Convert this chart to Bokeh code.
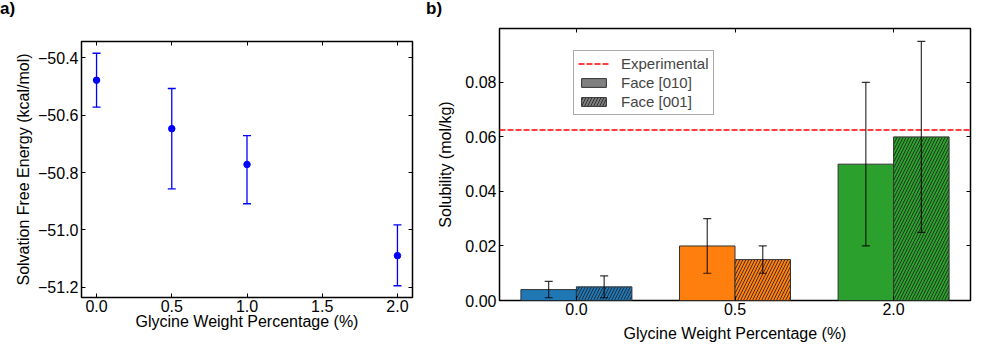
import numpy as np
from bokeh.plotting import figure
from bokeh.models import (ColumnDataSource, Whisker, TeeHead, LinearAxis, FixedTicker, Range1d,
                          Span, Legend, LegendItem, Div, CustomJSTickFormatter,
                          CustomLabelingPolicy)
from bokeh.embed import file_html
from bokeh.resources import INLINE

# ---------------- Panel a data ----------------
glycine_pct = [0.0, 0.5, 1.0, 2.0]
solv_energy = [-50.478, -50.647, -50.772, -51.090]
solv_upper = [-50.384, -50.507, -50.671, -50.983]
solv_lower = [-50.572, -50.857, -50.909, -51.195]
a_xticks = [0.0, 0.5, 1.0, 1.5, 2.0]
a_yticks = [-51.2, -51.0, -50.8, -50.6, -50.4]

# ---------------- Panel b data ----------------
categories = ["0.0", "0.5", "2.0"]
face010 = [0.004, 0.020, 0.050]
face010_err = [0.003, 0.010, 0.030]
face001 = [0.005, 0.015, 0.060]
face001_err = [0.004, 0.005, 0.035]
experimental = 0.0625
bar_colors = ["#1f77b4", "#ff7f0e", "#2ca02c"]
b_yticks = [0.0, 0.02, 0.04, 0.06, 0.08]

FONT = "Liberation Sans"
DASH = "6 2"


def style_axis(ax, label_standoff, title_standoff, size="16px"):
    ax.axis_label_text_font = FONT
    ax.axis_label_text_font_size = size
    ax.axis_label_text_font_style = "normal"
    ax.axis_label_text_color = "black"
    ax.major_label_text_font = FONT
    ax.major_label_text_font_size = size
    ax.major_label_text_color = "black"
    ax.major_tick_in = 4
    ax.major_tick_out = 0
    ax.major_tick_line_color = "black"
    ax.major_tick_line_width = 1
    ax.minor_tick_line_color = None
    ax.axis_line_color = None
    ax.major_label_standoff = label_standoff
    ax.axis_label_standoff = title_standoff


def mirror_axis(ticks):
    ax = LinearAxis(ticker=FixedTicker(ticks=ticks))
    ax.major_label_policy = CustomLabelingPolicy(code="return []")
    ax.major_label_text_font_size = "2px"
    ax.major_label_standoff = 0
    ax.axis_label_standoff = 0
    ax.major_tick_in = 4
    ax.major_tick_out = 0
    ax.major_tick_line_color = "black"
    ax.minor_tick_line_color = None
    ax.axis_line_color = None
    return ax


def whisker(src, color, alpha, width, head):
    return Whisker(source=src, base="x", upper="upper", lower="lower", dimension="height",
                   level="overlay", line_color=color, line_alpha=alpha, line_width=width,
                   upper_head=TeeHead(size=head, line_color=color, line_alpha=alpha, line_width=width),
                   lower_head=TeeHead(size=head, line_color=color, line_alpha=alpha, line_width=width))


# ================= Panel a =================
A_W, A_H = 420, 363
A_L, A_R, A_T, A_B = 81, 4, 41, 66
pa = figure(width=A_W, height=A_H, x_range=Range1d(-0.1, 2.1), y_range=Range1d(-51.236, -50.343),
            output_backend="svg", toolbar_location=None,
            min_border_left=A_L, min_border_right=A_R, min_border_top=A_T, min_border_bottom=A_B)
pa.xgrid.visible = False
pa.ygrid.visible = False
pa.outline_line_color = "black"
pa.outline_line_width = 1.5
pa.background_fill_color = "white"
pa.border_fill_color = "white"

pa.xaxis.ticker = FixedTicker(ticks=a_xticks)
pa.yaxis.ticker = FixedTicker(ticks=a_yticks)
pa.yaxis.formatter = CustomJSTickFormatter(code="return tick.toFixed(1).replace('-', '\\u2212')")
pa.xaxis.formatter = CustomJSTickFormatter(code="return tick.toFixed(1)")
pa.xaxis.axis_label = "Glycine Weight Percentage (%)"
pa.yaxis.axis_label = "Solvation Free Energy (kcal/mol)"
for ax in pa.xaxis:
    style_axis(ax, 2, -2)
for ax in pa.yaxis:
    style_axis(ax, 3, 3)
pa.add_layout(mirror_axis(a_xticks), "above")
pa.add_layout(mirror_axis(a_yticks), "right")

src_a = ColumnDataSource(dict(x=glycine_pct, y=solv_energy, upper=solv_upper, lower=solv_lower))
pa.add_layout(whisker(src_a, "blue", 1.0, 1.3, 8))
pa.scatter("x", "y", source=src_a, size=6.5, color="blue")

# ================= Panel b =================
bar_w = 0.35
idx = np.arange(len(categories))
B_W, B_H = 576, 363
B_L, B_R, B_T, B_B = 79, 26, 28, 63
pb = figure(width=B_W, height=B_H, x_range=Range1d(-0.485, 2.485), y_range=Range1d(0, 0.09975),
            output_backend="svg", toolbar_location=None,
            min_border_left=B_L, min_border_right=B_R, min_border_top=B_T, min_border_bottom=B_B)
pb.xgrid.visible = False
pb.ygrid.visible = False
pb.outline_line_color = "black"
pb.outline_line_width = 1.5
pb.background_fill_color = "white"
pb.border_fill_color = "white"

tick_pos = [int(i) for i in idx]
pb.xaxis.ticker = FixedTicker(ticks=tick_pos)
pb.xaxis.major_label_overrides = {i: c for i, c in zip(tick_pos, categories)}
pb.yaxis.ticker = FixedTicker(ticks=b_yticks)
pb.yaxis.formatter = CustomJSTickFormatter(code="return tick.toFixed(2)")
pb.xaxis.axis_label = "Glycine Weight Percentage (%)"
pb.yaxis.axis_label = "Solubility (mol/kg)"
for ax in pb.xaxis:
    style_axis(ax, 2, 7)
for ax in pb.yaxis:
    style_axis(ax, 3, 8)
pb.add_layout(mirror_axis(tick_pos), "above")
pb.add_layout(mirror_axis(b_yticks), "right")

f010 = np.array(face010)
e010 = np.array(face010_err)
f001 = np.array(face001)
e001 = np.array(face001_err)
src010 = ColumnDataSource(dict(x=idx - bar_w / 2, top=f010, color=bar_colors,
                               upper=f010 + e010, lower=f010 - e010))
src001 = ColumnDataSource(dict(x=idx + bar_w / 2, top=f001, color=bar_colors,
                               upper=f001 + e001, lower=f001 - e001))

HATCH = dict(hatch_pattern="/", hatch_color="#1a1a1a", hatch_scale=6, hatch_weight=0.8)
pb.vbar(x="x", top="top", bottom=0, width=bar_w, source=src010, fill_color="color",
        line_color="#333333", line_width=1)
pb.vbar(x="x", top="top", bottom=0, width=bar_w, source=src001, fill_color="color",
        line_color="#333333", line_width=1, **HATCH)

pb.add_layout(Span(location=experimental, dimension="width", line_color="red",
                   line_dash=DASH, line_width=1.5, level="overlay"))

for src in (src010, src001):
    pb.add_layout(whisker(src, "black", 0.8, 1.2, 8))

# legend proxies (hidden renderers that only lend their style to the legend)
src_exp = ColumnDataSource(dict(x=list(idx), y=[experimental] * len(idx)))
r_exp = pb.line(x="x", y="y", source=src_exp, line_color="red", line_dash=DASH, line_width=1.5,
                visible=False)
r_f010 = pb.vbar(x=idx, top=face010, width=bar_w, fill_color="gray", line_color="#333333",
                 line_width=1, visible=False)
r_f001 = pb.vbar(x=idx, top=face001, width=bar_w, fill_color="gray", line_color="#333333",
                 line_width=1, visible=False, **HATCH)
legend = Legend(items=[LegendItem(label="Experimental", renderers=[r_exp]),
                       LegendItem(label="Face [010]", renderers=[r_f010]),
                       LegendItem(label="Face [001]", renderers=[r_f001])],
                location=(74, 185), label_text_font=FONT, label_text_font_size="15px",
                glyph_width=31, glyph_height=11, label_standoff=12, spacing=2, padding=4,
                margin=0, border_line_color="#555555", border_line_width=1,
                background_fill_color="white", background_fill_alpha=1,
                inactive_fill_alpha=0)
pb.add_layout(legend)

# panel letters
LETTER_STYLE = {"font-family": FONT, "font-size": "17px", "font-weight": "bold",
                "color": "black", "line-height": "17px", "margin": "0", "padding": "0"}
div_a = Div(text="a)", width=30, height=20, styles=LETTER_STYLE)
div_b = Div(text="b)", width=30, height=20, styles=LETTER_STYLE)

roots = [pa, pb, div_a, div_b]
positions = [(0, 0), (A_W, 0), (0, 0), (426, 0)]

TEMPLATE = """
{% block contents %}
{% from macros import embed %}
{% for doc in docs %}{% for root in doc.roots %}
<div style="position:absolute;left:{{ positions[loop.index0][0] }}px;top:{{ positions[loop.index0][1] }}px;">
{{ embed(root) }}
</div>
{% endfor %}{% endfor %}
{% endblock %}
"""

html = file_html(roots, INLINE, template=TEMPLATE, template_variables={"positions": positions})
open("out.html", "w").write(html)
